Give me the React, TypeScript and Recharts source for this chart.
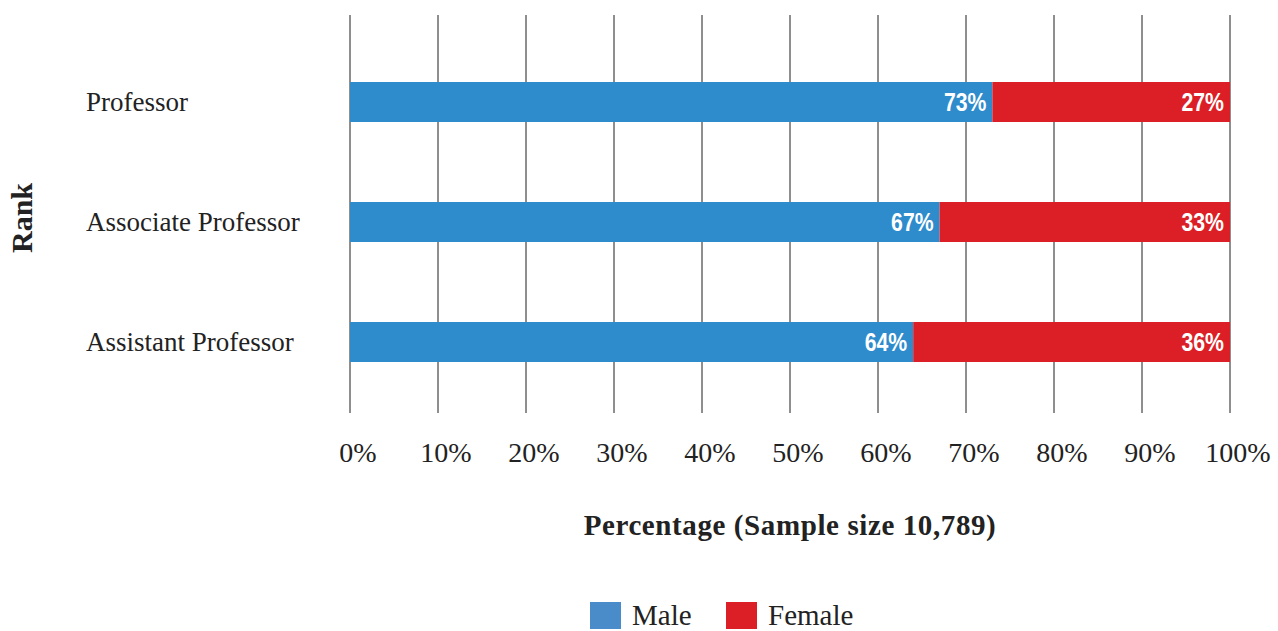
import { BarChart, Bar, XAxis, YAxis, CartesianGrid, LabelList } from "recharts"

const ranks = ["Professor", "Associate Professor", "Assistant Professor"]
const maleShare = [73, 67, 64]
const femaleShare = [27, 33, 36]
const percentTicks = [0, 10, 20, 30, 40, 50, 60, 70, 80, 90, 100]

const seriesNames = { male: "Male", female: "Female" }
const colors = { male: "#2e8bcc", female: "#dc1f26", legendMale: "#4a8bc9" }

const rows = ranks.map((rank, i) => ({
	rank,
	male: maleShare[i],
	female: femaleShare[i],
}))

const serif = "'Liberation Serif', 'DejaVu Serif', serif"
const barLabelFont = "'Liberation Sans', Arial, sans-serif"

function RankTick({ y, payload }: any) {
	return (
		<text x={86} y={y} dominantBaseline="central" textAnchor="start" fontFamily={serif} fontSize={27} fill="#222">
			{payload.value}
		</text>
	)
}

function PercentTick({ x, y, payload }: any) {
	return (
		<text x={x + 8} y={y + 31} dominantBaseline="central" textAnchor="middle" fontFamily={serif} fontSize={28} fill="#222">
			{payload.value}%
		</text>
	)
}

// white condensed value label, right-aligned inside its segment
function SegmentLabel({ x, y, width, height, value }: any) {
	const tx = x + width - 6
	const ty = y + height / 2
	return (
		<text
			transform={`translate(${tx},${ty}) scale(0.85,1)`}
			textAnchor="end"
			dominantBaseline="central"
			fill="#fff"
			fontFamily={barLabelFont}
			fontWeight="bold"
			fontSize={25}
		>
			{value}%
		</text>
	)
}

const legendItems = [
	{ label: seriesNames.male, color: colors.legendMale, left: 590 },
	{ label: seriesNames.female, color: colors.female, left: 726 },
]

export default function App() {
	return (
		<div style={{ position: "absolute", left: 0, top: 0, width: 1278, height: 631, background: "#fff", overflow: "hidden" }}>
			<BarChart
				width={1278}
				height={631}
				data={rows}
				layout="vertical"
				margin={{ top: 15, right: 48, left: 0, bottom: 158 }}
			>
				<CartesianGrid horizontal={false} stroke="#1e1e1e" />
				<XAxis
					type="number"
					domain={[0, 100]}
					ticks={percentTicks}
					axisLine={false}
					tickLine={false}
					tick={<PercentTick />}
					interval={0}
					height={60}
				/>
				<YAxis
					type="category"
					dataKey="rank"
					width={350}
					axisLine={false}
					tickLine={false}
					tick={<RankTick />}
					padding={{ top: 27, bottom: 11 }}
				/>
				<Bar dataKey="male" name={seriesNames.male} stackId="a" fill={colors.male} barSize={40} isAnimationActive={false}>
					<LabelList dataKey="male" content={<SegmentLabel />} />
				</Bar>
				<Bar dataKey="female" name={seriesNames.female} stackId="a" fill={colors.female} barSize={40} isAnimationActive={false}>
					<LabelList dataKey="female" content={<SegmentLabel />} />
				</Bar>
			</BarChart>
			<div
				style={{
					position: "absolute",
					left: 350,
					width: 880,
					top: 509,
					textAlign: "center",
					fontFamily: serif,
					fontWeight: "bold",
					fontSize: 29,
					letterSpacing: 0.6,
					color: "#222",
				}}
			>
				Percentage (Sample size 10,789)
			</div>
			<div
				style={{
					position: "absolute",
					left: 22,
					top: 218,
					transform: "translate(-50%, -50%) rotate(-90deg)",
					fontFamily: serif,
					fontWeight: "bold",
					fontSize: 30,
					color: "#222",
					whiteSpace: "nowrap",
				}}
			>
				Rank
			</div>
			{legendItems.map((item) => (
				<div
					key={item.label}
					style={{ position: "absolute", left: item.left, top: 601, height: 28, display: "flex", alignItems: "center", gap: 11 }}
				>
					<span style={{ width: 31, height: 27, background: item.color, display: "inline-block" }} />
					<span style={{ fontFamily: serif, fontSize: 29, color: "#222", lineHeight: 1 }}>{item.label}</span>
				</div>
			))}
		</div>
	)
}
